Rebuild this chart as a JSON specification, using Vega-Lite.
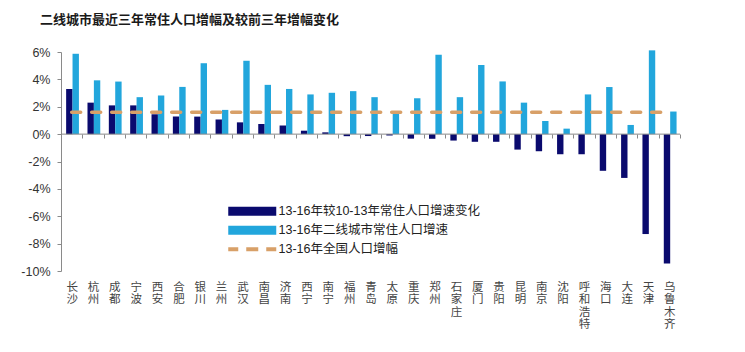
{
  "$schema": "https://vega.github.io/schema/vega-lite/v6.json",
  "width": 619,
  "height": 219,
  "autosize": {"type": "none"},
  "padding": {"left": 61, "top": 52, "right": 65, "bottom": 81},
  "background": "white",
  "title": {
    "text": "二线城市最近三年常住人口增幅及较前三年增幅变化",
    "anchor": "start",
    "frame": "group",
    "dx": -21,
    "offset": 19,
    "font": "Noto Sans CJK SC",
    "fontSize": 13,
    "fontWeight": "bold",
    "color": "#1a1a1a"
  },
  "config": {
    "view": {"stroke": null},
    "axisY": {"labelOverlap": false, "labelSeparation": 0}
  },
  "datasets": {
    "bars": [
      {"city": "长沙", "series": "13-16年较10-13年常住人口增速变化", "value": 3.3},
      {"city": "长沙", "series": "13-16年二线城市常住人口增速", "value": 5.87},
      {"city": "杭州", "series": "13-16年较10-13年常住人口增速变化", "value": 2.3},
      {"city": "杭州", "series": "13-16年二线城市常住人口增速", "value": 3.93},
      {"city": "成都", "series": "13-16年较10-13年常住人口增速变化", "value": 2.1},
      {"city": "成都", "series": "13-16年二线城市常住人口增速", "value": 3.84},
      {"city": "宁波", "series": "13-16年较10-13年常住人口增速变化", "value": 2.1},
      {"city": "宁波", "series": "13-16年二线城市常住人口增速", "value": 2.7},
      {"city": "西安", "series": "13-16年较10-13年常住人口增速变化", "value": 1.45},
      {"city": "西安", "series": "13-16年二线城市常住人口增速", "value": 2.83},
      {"city": "合肥", "series": "13-16年较10-13年常住人口增速变化", "value": 1.28},
      {"city": "合肥", "series": "13-16年二线城市常住人口增速", "value": 3.45},
      {"city": "银川", "series": "13-16年较10-13年常住人口增速变化", "value": 1.28},
      {"city": "银川", "series": "13-16年二线城市常住人口增速", "value": 5.18},
      {"city": "兰州", "series": "13-16年较10-13年常住人口增速变化", "value": 1.07},
      {"city": "兰州", "series": "13-16年二线城市常住人口增速", "value": 1.77},
      {"city": "武汉", "series": "13-16年较10-13年常住人口增速变化", "value": 0.86},
      {"city": "武汉", "series": "13-16年二线城市常住人口增速", "value": 5.36},
      {"city": "南昌", "series": "13-16年较10-13年常住人口增速变化", "value": 0.74},
      {"city": "南昌", "series": "13-16年二线城市常住人口增速", "value": 3.6},
      {"city": "济南", "series": "13-16年较10-13年常住人口增速变化", "value": 0.63},
      {"city": "济南", "series": "13-16年二线城市常住人口增速", "value": 3.3},
      {"city": "西宁", "series": "13-16年较10-13年常住人口增速变化", "value": 0.25},
      {"city": "西宁", "series": "13-16年二线城市常住人口增速", "value": 2.9},
      {"city": "南宁", "series": "13-16年较10-13年常住人口增速变化", "value": 0.13},
      {"city": "南宁", "series": "13-16年二线城市常住人口增速", "value": 3.02},
      {"city": "福州", "series": "13-16年较10-13年常住人口增速变化", "value": -0.15},
      {"city": "福州", "series": "13-16年二线城市常住人口增速", "value": 3.14},
      {"city": "青岛", "series": "13-16年较10-13年常住人口增速变化", "value": -0.14},
      {"city": "青岛", "series": "13-16年二线城市常住人口增速", "value": 2.7},
      {"city": "太原", "series": "13-16年较10-13年常住人口增速变化", "value": -0.1},
      {"city": "太原", "series": "13-16年二线城市常住人口增速", "value": 1.6},
      {"city": "重庆", "series": "13-16年较10-13年常住人口增速变化", "value": -0.33},
      {"city": "重庆", "series": "13-16年二线城市常住人口增速", "value": 2.62},
      {"city": "郑州", "series": "13-16年较10-13年常住人口增速变化", "value": -0.34},
      {"city": "郑州", "series": "13-16年二线城市常住人口增速", "value": 5.8},
      {"city": "石家庄", "series": "13-16年较10-13年常住人口增速变化", "value": -0.47},
      {"city": "石家庄", "series": "13-16年二线城市常住人口增速", "value": 2.7},
      {"city": "厦门", "series": "13-16年较10-13年常住人口增速变化", "value": -0.56},
      {"city": "厦门", "series": "13-16年二线城市常住人口增速", "value": 5.05},
      {"city": "贵阳", "series": "13-16年较10-13年常住人口增速变化", "value": -0.56},
      {"city": "贵阳", "series": "13-16年二线城市常住人口增速", "value": 3.85},
      {"city": "昆明", "series": "13-16年较10-13年常住人口增速变化", "value": -1.13},
      {"city": "昆明", "series": "13-16年二线城市常住人口增速", "value": 2.3},
      {"city": "南京", "series": "13-16年较10-13年常住人口增速变化", "value": -1.25},
      {"city": "南京", "series": "13-16年二线城市常住人口增速", "value": 0.96},
      {"city": "沈阳", "series": "13-16年较10-13年常住人口增速变化", "value": -1.47},
      {"city": "沈阳", "series": "13-16年二线城市常住人口增速", "value": 0.4},
      {"city": "呼和浩特", "series": "13-16年较10-13年常住人口增速变化", "value": -1.47},
      {"city": "呼和浩特", "series": "13-16年二线城市常住人口增速", "value": 2.9},
      {"city": "海口", "series": "13-16年较10-13年常住人口增速变化", "value": -2.68},
      {"city": "海口", "series": "13-16年二线城市常住人口增速", "value": 3.44},
      {"city": "大连", "series": "13-16年较10-13年常住人口增速变化", "value": -3.2},
      {"city": "大连", "series": "13-16年二线城市常住人口增速", "value": 0.67},
      {"city": "天津", "series": "13-16年较10-13年常住人口增速变化", "value": -7.3},
      {"city": "天津", "series": "13-16年二线城市常住人口增速", "value": 6.12},
      {"city": "乌鲁木齐", "series": "13-16年较10-13年常住人口增速变化", "value": -9.45},
      {"city": "乌鲁木齐", "series": "13-16年二线城市常住人口增速", "value": 1.65}
    ],
    "national": [
      {"city": "长沙", "series": "13-16年全国人口增幅", "value": 1.6},
      {"city": "杭州", "series": "13-16年全国人口增幅", "value": 1.6},
      {"city": "成都", "series": "13-16年全国人口增幅", "value": 1.6},
      {"city": "宁波", "series": "13-16年全国人口增幅", "value": 1.6},
      {"city": "西安", "series": "13-16年全国人口增幅", "value": 1.6},
      {"city": "合肥", "series": "13-16年全国人口增幅", "value": 1.6},
      {"city": "银川", "series": "13-16年全国人口增幅", "value": 1.6},
      {"city": "兰州", "series": "13-16年全国人口增幅", "value": 1.6},
      {"city": "武汉", "series": "13-16年全国人口增幅", "value": 1.6},
      {"city": "南昌", "series": "13-16年全国人口增幅", "value": 1.6},
      {"city": "济南", "series": "13-16年全国人口增幅", "value": 1.6},
      {"city": "西宁", "series": "13-16年全国人口增幅", "value": 1.6},
      {"city": "南宁", "series": "13-16年全国人口增幅", "value": 1.6},
      {"city": "福州", "series": "13-16年全国人口增幅", "value": 1.6},
      {"city": "青岛", "series": "13-16年全国人口增幅", "value": 1.6},
      {"city": "太原", "series": "13-16年全国人口增幅", "value": 1.6},
      {"city": "重庆", "series": "13-16年全国人口增幅", "value": 1.6},
      {"city": "郑州", "series": "13-16年全国人口增幅", "value": 1.6},
      {"city": "石家庄", "series": "13-16年全国人口增幅", "value": 1.6},
      {"city": "厦门", "series": "13-16年全国人口增幅", "value": 1.6},
      {"city": "贵阳", "series": "13-16年全国人口增幅", "value": 1.6},
      {"city": "昆明", "series": "13-16年全国人口增幅", "value": 1.6},
      {"city": "南京", "series": "13-16年全国人口增幅", "value": 1.6},
      {"city": "沈阳", "series": "13-16年全国人口增幅", "value": 1.6},
      {"city": "呼和浩特", "series": "13-16年全国人口增幅", "value": 1.6},
      {"city": "海口", "series": "13-16年全国人口增幅", "value": 1.6},
      {"city": "大连", "series": "13-16年全国人口增幅", "value": 1.6},
      {"city": "天津", "series": "13-16年全国人口增幅", "value": 1.6},
      {"city": "乌鲁木齐", "series": "13-16年全国人口增幅", "value": 1.6}
    ]
  },
  "layer": [
    {
      "data": {"name": "bars"},
      "mark": {"type": "bar"},
      "encoding": {
        "x": {
          "field": "city",
          "type": "nominal",
          "sort": null,
          "scale": {"paddingInner": 0, "paddingOuter": 0},
          "axis": {
            "orient": "bottom",
            "title": null,
            "domain": false,
            "ticks": false,
            "grid": true,
            "gridColor": "#8a8a8a",
            "gridWidth": 1,
            "gridDash": [0, 82, 4, 400],
            "gridOpacity": 1,
            "tickBand": "extent",
            "labelAngle": 0,
            "labelOverlap": false,
            "labelExpr": "split(datum.label, '')",
            "labelBaseline": "top",
            "labelPadding": 10,
            "labelLineHeight": 12.5,
            "labelFont": "Noto Sans CJK SC",
            "labelFontSize": 11.5,
            "labelColor": "#444444"
          }
        },
        "xOffset": {
          "field": "series",
          "type": "nominal",
          "sort": ["13-16年较10-13年常住人口增速变化", "13-16年二线城市常住人口增速"],
          "scale": {"paddingInner": 0, "paddingOuter": 0.67, "align": 0.6}
        },
        "y": {
          "field": "value",
          "type": "quantitative",
          "scale": {"domain": [-10, 6], "nice": false, "zero": false},
          "axis": {
            "title": null,
            "grid": false,
            "values": [-10, -8, -6, -4, -2, 0, 2, 4, 6],
            "labelOverlap": false,
            "labelExpr": "datum.value + '%'",
            "domainColor": "#8a8a8a",
            "tickColor": "#8a8a8a",
            "tickSize": 4,
            "labelPadding": 7,
            "labelFont": "Liberation Sans",
            "labelFontSize": 12.5,
            "labelColor": "#333333"
          }
        },
        "color": {
          "field": "series",
          "type": "nominal",
          "scale": {
            "domain": ["13-16年较10-13年常住人口增速变化", "13-16年二线城市常住人口增速", "13-16年全国人口增幅"],
            "range": ["#0a0a6e", "#22a6dc", "#d8a068"]
          },
          "legend": {
            "orient": "none",
            "legendX": 185,
            "legendY": 153,
            "title": null,
            "direction": "vertical",
            "labelFont": "Liberation Sans, Noto Sans CJK SC",
            "labelFontSize": 12.5,
            "labelColor": "#222222",
            "labelLimit": 400,
            "labelOffset": 20,
            "rowPadding": 6,
            "symbolSize": 100,
            "encode": {
              "symbols": {
                "update": {
                  "shape": {"signal": "datum.value === '13-16年全国人口增幅' ? 'M-4.8,-0.4H-2.8V0.4H-4.8Z M-1.2,-0.4H1.2V0.4H-1.2Z M2.8,-0.4H4.8V0.4H2.8Z' : 'M-4.8,-0.9H4.8V0.9H-4.8Z'"},
                  "fill": {"signal": "scale('color', datum.value)"},
                  "stroke": {"value": "transparent"},
                  "strokeWidth": {"value": 0},
                  "opacity": {"value": 1},
                  "fillOpacity": {"value": 1}
                }
              }
            }
          }
        }
      }
    },
    {
      "data": {"values": [{"zero": 0}]},
      "mark": {"type": "rule", "color": "#8a8a8a", "strokeWidth": 1},
      "encoding": {
        "y": {
          "field": "zero",
          "type": "quantitative",
          "axis": {
            "title": null,
            "grid": false,
            "values": [-10, -8, -6, -4, -2, 0, 2, 4, 6],
            "labelOverlap": false,
            "labelExpr": "datum.value + '%'"
          }
        }
      }
    },
    {
      "data": {"name": "national"},
      "mark": {"type": "line", "strokeDash": [9, 11], "strokeWidth": 3.5, "strokeCap": "round"},
      "encoding": {
        "x": {"field": "city", "type": "nominal", "sort": null},
        "y": {
          "field": "value",
          "type": "quantitative",
          "axis": {
            "title": null,
            "grid": false,
            "values": [-10, -8, -6, -4, -2, 0, 2, 4, 6],
            "labelOverlap": false,
            "labelExpr": "datum.value + '%'"
          }
        },
        "color": {"field": "series", "type": "nominal"}
      }
    }
  ]
}
